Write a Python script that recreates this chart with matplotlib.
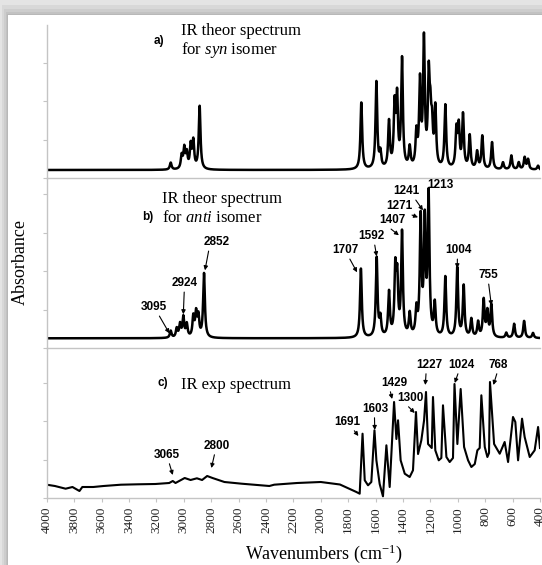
import numpy as np
import matplotlib
matplotlib.use('Agg')
import matplotlib.pyplot as plt
from matplotlib.patches import Rectangle

plt.rcParams['mathtext.fontset'] = 'custom'
plt.rcParams['mathtext.rm'] = 'Liberation Serif'
plt.rcParams['mathtext.it'] = 'Liberation Serif:italic'

# ---------------- data ----------------
# a) theoretical band list for the syn isomer (wavenumber, relative intensity)
syn_wn = [3095, 3015, 2996, 2978, 2949, 2930, 2884,
          1704, 1594, 1565, 1502, 1461, 1443, 1407, 1351, 1302, 1276, 1247,
          1212, 1200, 1188, 1164, 1091, 1010, 993, 962, 913, 859, 821, 750,
          670, 609, 555, 512, 487, 414]
syn_int = [7, 13, 20, 15, 23, 27, 63,
           66.7, 86.7, 15, 46, 60, 67, 108, 20, 33, 83, 125,
           85, 42, 35, 58, 63, 37, 40, 53, 33, 17, 33, 27,
           7, 14, 7, 12, 10, 4]

# b) theoretical band list for the anti isomer
anti_wn = [3095, 3051, 3027, 3003, 2978, 2930, 2910, 2893, 2852,
           1707, 1592, 1565, 1502, 1456, 1442, 1407, 1351, 1302, 1271, 1241,
           1213, 1168, 1091, 1004, 957, 901, 852, 811, 784, 755, 646, 589,
           516, 451]
anti_int = [7, 9, 13, 20, 13, 20, 23, 20, 64,
            69, 79, 18, 44, 64, 54, 103, 22, 25, 116, 111,
            139, 32, 60, 69, 51, 18, 15, 37, 25, 32, 5, 14,
            17, 5]

# c) experimental spectrum (wavenumber, absorbance a.u.)
exp_wn = [4000, 3940, 3862, 3812, 3761, 3740, 3660, 3585, 3458, 3333, 3207,
          3106, 3080, 3060, 2993, 2950, 2904, 2866, 2829, 2790, 2703, 2577,
          2375, 2340, 2173, 2000, 1860, 1740, 1716, 1695, 1679, 1655, 1631,
          1608, 1594, 1570, 1546, 1521, 1497, 1465, 1448, 1436, 1417, 1387,
          1351, 1327, 1305, 1290, 1266, 1246, 1232, 1217, 1190, 1181, 1164,
          1139, 1120, 1108, 1083, 1059, 1035, 1024, 1003, 979, 954, 925, 901,
          876, 857, 840, 828, 803, 784, 772, 765, 735, 694, 658, 633, 597,
          580, 560, 531, 512, 475, 439, 414, 400]
exp_abs = [13.3, 12, 9.3, 11, 7, 11, 11, 12, 13.3, 13.7, 14,
           15, 17, 15, 20, 18, 19.7, 18, 22, 20, 16, 14.3,
           12, 13.3, 15, 16, 13.5, 6, 4.3, 64.3, 17.7, 12.7, 16,
           67.7, 37.7, 14, 1.7, 52.7, 11, 96, 59, 77.7, 37.7, 24.3,
           21, 27.7, 86, 44, 57.7, 77.7, 106, 54, 50, 101, 47.7,
           37.7, 40, 92.7, 41, 36, 40, 114, 54, 109, 51, 37.7, 31,
           34, 47.7, 50, 102.7, 51, 41, 45, 116, 54, 44.3, 56, 36, 81,
           76, 37.7, 79.3, 61, 41, 47.7, 71, 50]

# peak labels: (label, arrow tip wn, tip y, text dx px, text dy px, relpos)
anti_labels = [('3095', 3105, 5, -15, 26, (0.5, 0.5)),
               ('2924', 3003, 24, 1, 31, (0.5, 0)),
               ('2852', 2845, 68, 12, 28, (0.2, 0)),
               ('1707', 1735, 66, -12, 22, (0.5, 0.5)),
               ('1592', 1592, 82, -5, 20, (0.6, 0)),
               ('1407', 1430, 103, -6, 15, (0.3, 0)),
               ('1271', 1290, 121, -19, 11, (0.71, 0)),
               ('1241', 1254, 128, -17, 19, (0.8, 0)),
               ('1213', 1213, 150, 12, 3, None),
               ('1004', 1004, 70, 1.5, 18, (0.45, 0)),
               ('755', 755, 33, -3, 30, (0.5, 0))]
exp_labels = [('3065', 3080, 23, -6, 20, (0.5, 0.5)),
              ('2800', 2798, 30, 5, 22, (0.5, 0.5)),
              ('1691', 1725, 62, -11, 14, (0.5, 0.5)),
              ('1603', 1606, 68, 1, 21, (0.45, 0)),
              ('1429', 1479, 99, 2, 16, (0.33, 0)),
              ('1300', 1314, 85, -4, 15, (0.31, 0)),
              ('1227', 1237, 113, 4, 20, (0.38, 0)),
              ('1024', 1022, 115, 7, 18, (0.39, 0)),
              ('768', 740, 113, 5, 20, (0.46, 0))]

x_ticks = list(range(4000, 399, -200))

# ---------------- figure ----------------
W, H = 542, 565
fig = plt.figure(figsize=(W / 100, H / 100), dpi=100)
fig.patch.set_facecolor('#e4e4e4')
for x0, y0, c in [(2, 5, '#d8d8d8'), (4, 9, '#cdcdcd'), (6, 12, '#c2c2c2'), (7, 14, '#b8b8b8')]:
    fig.add_artist(Rectangle((x0 / W, 0), 1, 1 - y0 / H, transform=fig.transFigure,
                             facecolor=c, edgecolor='none', zorder=-5))
fig.add_artist(Rectangle((8 / W, 0), 1, 1 - 15 / H, transform=fig.transFigure,
                         facecolor='white', edgecolor='none', zorder=-4))

L, R = 46.7 / W, 540 / W
ax_a = fig.add_axes([L, 1 - 178 / H, R - L, 153 / H])
ax_b = fig.add_axes([L, 1 - 348 / H, R - L, 170 / H])
ax_c = fig.add_axes([L, 1 - 498 / H, R - L, 150 / H])

grid = np.linspace(4000, 400, 7201)


def broaden(wn, inten, hw=7.5):
    w = np.asarray(wn, float)[:, None]
    i = np.asarray(inten, float)[:, None]
    return (i * hw ** 2 / ((grid[None, :] - w) ** 2 + hw ** 2)).sum(axis=0)


ax_a.plot(grid, broaden(syn_wn, syn_int), color='black', lw=1.8)
ax_b.plot(grid, broaden(anti_wn, anti_int), color='black', lw=1.8)
ax_c.plot(exp_wn, exp_abs, color='black', lw=1.5)

ax_a.set_ylim(-8, 145)
ax_b.set_ylim(-9.7, 160.3)
ax_c.set_ylim(0, 150)

for ax in (ax_a, ax_b, ax_c):
    ax.set_xlim(4000, 400)
    ax.patch.set_alpha(0)
    for s in ('top', 'right'):
        ax.spines[s].set_visible(False)
    for s in ('left', 'bottom'):
        ax.spines[s].set_color('#c4c4c4')
        ax.spines[s].set_linewidth(1.0)
    y0, y1 = ax.get_ylim()
    ax.set_yticks(np.arange(y0, y1, 38.5))
    ax.tick_params(axis='y', length=3, color='#c4c4c4', labelleft=False)
    ax.tick_params(axis='x', length=0, labelbottom=False)

ax_c.set_xticks(x_ticks)
ax_c.set_xticklabels([str(t) for t in x_ticks], rotation=90,
                     family='Liberation Serif', fontsize=9.5, color='#222222')
ax_c.tick_params(axis='x', length=3, color='#c4c4c4', labelbottom=True, pad=3)


def put_labels(ax, items):
    for lab, wn, yv, dx, dy, rp in items:
        kw = dict(xy=(wn, yv), xytext=(dx, dy), textcoords='offset pixels',
                  ha='center', va='center', fontsize=8.5, fontweight='bold',
                  family='Liberation Sans', color='black')
        if rp is not None:
            kw['arrowprops'] = dict(arrowstyle='-|>', color='black', lw=0.8,
                                    mutation_scale=6, shrinkA=0, shrinkB=0, relpos=rp)
        ax.annotate(lab, **kw)


put_labels(ax_b, anti_labels)
put_labels(ax_c, exp_labels)


def fx(px):
    return px / W


def fy(py):
    return 1 - py / H


serif = dict(family='Liberation Serif', fontsize=12, ha='left', va='center')
bold = dict(family='Liberation Sans', fontsize=8.5, fontweight='bold', ha='left', va='center')
fig.text(fx(154), fy(41), 'a)', **bold)
fig.text(fx(181), fy(31), 'IR theor spectrum', **serif)
fig.text(fx(181), fy(50), r'for $\mathit{syn}$ isomer', **serif)
fig.text(fx(142), fy(217), 'b)', **bold)
fig.text(fx(162), fy(199), 'IR theor spectrum', **serif)
fig.text(fx(162), fy(218), r'for $\mathit{anti}$ isomer', **serif)
fig.text(fx(157), fy(383), 'c)', **bold)
fig.text(fx(181), fy(385), 'IR exp spectrum', **serif)

fig.text(fx(20), fy(262), 'Absorbance', rotation=90, family='Liberation Serif',
         fontsize=13, ha='center', va='center')
fig.text(fx(324), fy(554), r'Wavenumbers (cm$^{\mathregular{-1}}$)', family='Liberation Serif',
         fontsize=13, ha='center', va='center')

fig.savefig('out.png', dpi=100, facecolor=fig.get_facecolor())
